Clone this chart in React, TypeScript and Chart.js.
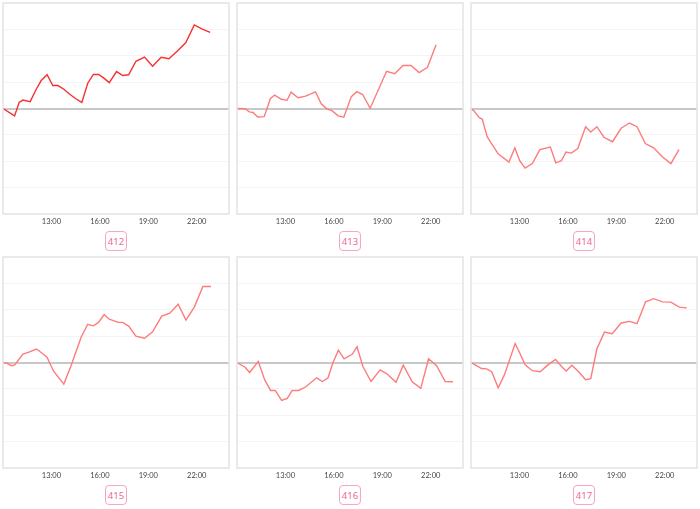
import React, { useEffect, useRef } from "react";
import { Chart, registerables } from "chart.js";

Chart.register(...registerables);

const TICK_HOURS = [13, 16, 19, 22];
const PANEL_LABELS = ["412", "413", "414", "415", "416", "417"];
const PANEL_TITLES = ["2021/11/12", "2021/11/13", "2021/11/14", "2021/11/15", "2021/11/16", "2021/11/17"];

const TIMES_412 = ["10:00","10:43","11:00","11:14","11:41","12:04","12:22","12:44","13:05","13:24","13:45","14:07","14:32","14:53","15:15","15:36","15:55","16:14","16:35","17:02","17:25","17:47","18:14","18:46","19:16","19:48","20:17","20:48","21:19","21:51","22:21","22:50"];
const VALUES_412 = [0,-0.28,0.23,0.32,0.26,0.74,1.06,1.28,0.87,0.87,0.74,0.55,0.36,0.23,0.96,1.29,1.29,1.16,0.98,1.40,1.25,1.28,1.79,1.95,1.60,1.94,1.89,2.18,2.49,3.17,3.01,2.89];

const TIMES_413 = ["10:00","10:30","10:46","11:00","11:17","11:41","12:04","12:20","12:45","13:06","13:21","13:47","14:15","14:52","15:13","15:34","15:53","16:16","16:37","17:05","17:25","17:47","18:15","19:16","19:46","20:17","20:47","21:17","21:48","22:20"];
const VALUES_413 = [0,-0.01,-0.13,-0.15,-0.32,-0.31,0.37,0.51,0.35,0.31,0.62,0.41,0.47,0.63,0.18,-0.01,-0.08,-0.28,-0.33,0.45,0.64,0.53,0.01,1.41,1.32,1.63,1.63,1.36,1.56,2.42];

const TIMES_414 = ["10:00","10:11","10:30","10:42","11:00","11:17","11:41","12:21","12:43","13:01","13:21","13:48","14:16","14:55","15:15","15:36","15:53","16:13","16:37","17:06","17:25","17:48","18:14","18:46","19:18","19:49","20:17","20:48","21:19","21:52","22:23","22:53"];
const VALUES_414 = [0,-0.09,-0.34,-0.41,-1.07,-1.34,-1.72,-2.03,-1.49,-1.98,-2.26,-2.09,-1.56,-1.46,-2.06,-1.98,-1.65,-1.69,-1.52,-0.69,-0.89,-0.69,-1.09,-1.26,-0.75,-0.55,-0.69,-1.33,-1.49,-1.84,-2.09,-1.56];

const TIMES_415 = ["10:00","10:15","10:31","10:43","11:14","11:39","12:04","12:22","12:44","13:08","13:46","14:13","14:50","15:15","15:36","15:55","16:16","16:35","17:08","17:25","17:47","18:14","18:46","19:16","19:50","20:20","20:51","21:20","21:51","22:23","22:53"];
const VALUES_415 = [0,-0.03,-0.12,-0.10,0.32,0.40,0.51,0.38,0.19,-0.33,-0.82,-0.12,0.95,1.45,1.39,1.52,1.82,1.64,1.52,1.52,1.38,1.00,0.92,1.16,1.76,1.87,2.21,1.61,2.10,2.88,2.88];

const TIMES_416 = ["10:00","10:30","10:47","11:19","11:43","12:05","12:22","12:46","13:07","13:25","13:49","14:16","14:56","15:17","15:38","15:57","16:17","16:38","17:09","17:26","17:48","18:18","18:52","19:17","19:51","20:18","20:51","21:23","21:52","22:22","22:54","23:23"];
const VALUES_416 = [0,-0.18,-0.38,0.04,-0.66,-1.06,-1.06,-1.44,-1.36,-1.06,-1.06,-0.92,-0.58,-0.72,-0.59,0,0.47,0.14,0.32,0.60,-0.15,-0.72,-0.28,-0.43,-0.75,-0.10,-0.73,-0.98,0.14,-0.12,-0.72,-0.73];

const TIMES_417 = ["10:00","10:17","10:39","10:58","11:17","11:41","12:04","12:23","12:44","13:03","13:21","13:48","14:17","14:46","15:14","15:40","15:54","16:15","16:40","17:06","17:25","17:48","18:16","18:45","19:18","19:49","20:17","20:49","21:19","21:52","22:23","22:54","23:22"];
const VALUES_417 = [0,-0.10,-0.23,-0.24,-0.35,-0.96,-0.47,0.09,0.72,0.32,-0.09,-0.31,-0.35,-0.09,0.12,-0.19,-0.32,-0.10,-0.35,-0.65,-0.61,0.52,1.15,1.09,1.50,1.56,1.47,2.30,2.42,2.30,2.29,2.10,2.07];

const SERIES_TIMES = [TIMES_412, TIMES_413, TIMES_414, TIMES_415, TIMES_416, TIMES_417];
const SERIES_VALUES = [VALUES_412, VALUES_413, VALUES_414, VALUES_415, VALUES_416, VALUES_417];
const LINE_COLORS = ["#f63030", "#ff7b7b", "#ff7b7b", "#ff7b7b", "#ff7b7b", "#ff7b7b"];

const toHours = (t: string) => {
  const [h, m] = t.split(":").map(Number);
  return h + m / 60;
};

const boxPlugin = {
  id: "boxPlugin",
  afterDraw(chart: any) {
    const { ctx, chartArea } = chart;
    ctx.save();
    ctx.strokeStyle = "#e3e3e3";
    ctx.lineWidth = 1.5;
    ctx.strokeRect(chartArea.left, chartArea.top, chartArea.right - chartArea.left, chartArea.bottom - chartArea.top);
    ctx.restore();
  },
};

const BOX_W = 226;
const BOX_H = 209;
const CANVAS_H = 227;
const COL_X = [3, 237, 471];
const ROW_Y = [3, 257];

function Panel({ index }: { index: number }) {
  const ref = useRef<HTMLCanvasElement | null>(null);
  const col = index % 3;
  const row = Math.floor(index / 3);
  const left = COL_X[col];
  const top = ROW_Y[row];

  useEffect(() => {
    if (!ref.current) return;
    const times = SERIES_TIMES[index];
    const values = SERIES_VALUES[index];
    const chart = new Chart(ref.current, {
      type: "line",
      data: {
        datasets: [
          {
            data: times.map((t, i) => ({ x: toHours(t), y: values[i] })),
            borderColor: LINE_COLORS[index],
            borderWidth: 1.4,
            pointRadius: 0,
            tension: 0,
            fill: false,
          },
        ],
      },
      options: {
        animation: false,
        responsive: false,
        maintainAspectRatio: false,
        layout: { padding: { left: 1, right: 1, top: 1, bottom: 0 } },
        plugins: { legend: { display: false }, tooltip: { enabled: false } },
        scales: {
          x: {
            type: "linear",
            min: 10,
            max: 24,
            afterBuildTicks: (scale: any) => {
              scale.ticks = TICK_HOURS.map((v) => ({ value: v }));
            },
            ticks: {
              callback: (v: any) => `${v}:00`,
              font: { size: 7.5, family: "Lato" },
              color: "#444",
              padding: 3,
              maxRotation: 0,
              autoSkip: false,
            },
            grid: { display: false, drawTicks: false },
            border: { display: false },
          },
          y: {
            min: -4,
            max: 4,
            ticks: { display: false, stepSize: 1 },
            grid: {
              drawTicks: false,
              color: (ctx: any) => (ctx.tick && ctx.tick.value === 0 ? "#c8c8c8" : "#f4f4f4"),
              lineWidth: (ctx: any) => (ctx.tick && ctx.tick.value === 0 ? 2 : 1),
            },
            border: { display: false },
          },
        },
      } as any,
      plugins: [boxPlugin],
    });
    return () => chart.destroy();
  }, [index]);

  const cx = left + BOX_W / 2;
  const labelTop = top + BOX_H + 19;

  return (
    <>
      {row === 0 && (
        <div
          style={{
            position: "absolute",
            left: cx - 40,
            width: 80,
            top: -9,
            height: 12,
            lineHeight: "12px",
            fontSize: 9,
            fontFamily: "Noto Sans",
            color: "#bbb",
            textAlign: "center",
          }}
        >
          {PANEL_TITLES[index]}
        </div>
      )}
      <canvas
        ref={ref}
        width={BOX_W + 2}
        height={CANVAS_H}
        style={{ position: "absolute", left: left - 1, top: top - 1, width: BOX_W + 2, height: CANVAS_H }}
      />
      <div
        style={{
          position: "absolute",
          left: cx - 11,
          top: labelTop,
          width: 22,
          height: 20,
          boxSizing: "border-box",
          border: "1.5px solid #f7a6bf",
          borderRadius: 4,
          background: "#fff",
          color: "#ee6a92",
          fontFamily: "Noto Sans",
          fontSize: 9.5,
          display: "flex",
          alignItems: "center",
          justifyContent: "center",
        }}
      >
        {PANEL_LABELS[index]}
      </div>
    </>
  );
}

export default function App() {
  return (
    <div
      style={{
        position: "fixed",
        left: 0,
        top: 0,
        width: 700,
        height: 509,
        background: "#fff",
        overflow: "hidden",
      }}
    >
      {PANEL_LABELS.map((_, i) => (
        <Panel key={i} index={i} />
      ))}
    </div>
  );
}
